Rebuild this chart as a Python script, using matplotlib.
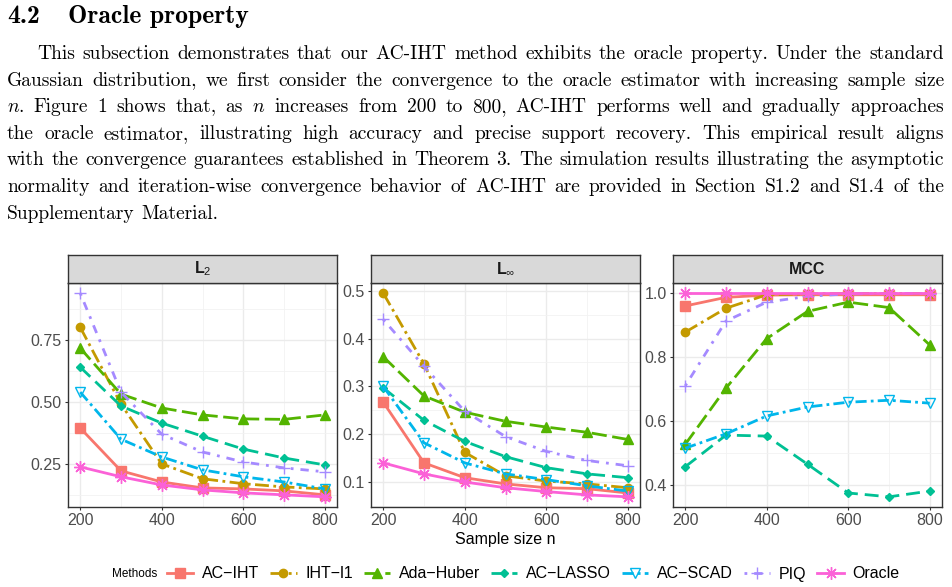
import matplotlib
matplotlib.use("Agg")
import matplotlib.pyplot as plt
from matplotlib.lines import Line2D

W, H = 952, 587

plt.rcParams['font.family'] = ['Liberation Sans', 'DejaVu Sans']
plt.rcParams['mathtext.fontset'] = 'custom'
plt.rcParams['mathtext.rm'] = 'Liberation Sans'
plt.rcParams['mathtext.bf'] = 'Liberation Sans:bold'
plt.rcParams['mathtext.fallback'] = 'cm'

# ---- data ----
n = [200, 300, 400, 500, 600, 700, 800]
methods = ['AC\u2212IHT', 'IHT\u2212l1', 'Ada\u2212Huber', 'AC\u2212LASSO', 'AC\u2212SCAD', 'PIQ', 'Oracle']

l2_aciht = [0.395, 0.222, 0.177, 0.153, 0.149, 0.141, 0.125]
l2_ihtl1 = [0.802, 0.492, 0.250, 0.190, 0.170, 0.157, 0.149]
l2_huber = [0.718, 0.532, 0.476, 0.448, 0.432, 0.430, 0.448]
l2_lasso = [0.641, 0.484, 0.415, 0.362, 0.310, 0.274, 0.246]
l2_scad = [0.540, 0.350, 0.278, 0.226, 0.198, 0.177, 0.149]
l2_piq = [0.940, 0.540, 0.370, 0.298, 0.258, 0.234, 0.218]
l2_oracle = [0.238, 0.198, 0.165, 0.145, 0.133, 0.125, 0.117]

linf_aciht = [0.267, 0.140, 0.109, 0.096, 0.088, 0.086, 0.077]
linf_ihtl1 = [0.495, 0.347, 0.162, 0.113, 0.102, 0.096, 0.088]
linf_huber = [0.362, 0.280, 0.246, 0.227, 0.215, 0.204, 0.189]
linf_lasso = [0.297, 0.229, 0.185, 0.153, 0.130, 0.117, 0.109]
linf_scad = [0.300, 0.182, 0.140, 0.117, 0.105, 0.092, 0.081]
linf_piq = [0.440, 0.342, 0.248, 0.195, 0.164, 0.145, 0.134]
linf_oracle = [0.140, 0.117, 0.100, 0.088, 0.080, 0.073, 0.069]

mcc_aciht = [0.960, 0.987, 0.994, 0.995, 0.995, 0.995, 0.995]
mcc_ihtl1 = [0.878, 0.953, 0.995, 0.998, 0.999, 0.999, 0.999]
mcc_huber = [0.527, 0.703, 0.858, 0.943, 0.972, 0.955, 0.838]
mcc_lasso = [0.457, 0.556, 0.553, 0.465, 0.375, 0.363, 0.381]
mcc_scad = [0.515, 0.560, 0.616, 0.644, 0.659, 0.665, 0.656]
mcc_piq = [0.710, 0.913, 0.972, 0.990, 0.998, 0.999, 0.999]
mcc_oracle = [1.0, 1.0, 1.0, 1.0, 1.0, 1.0, 1.0]

panel_titles = [r'$\mathbf{L}_2$', r'$\mathbf{L}_{\infty}$', 'MCC']
panel_data = [
    [l2_aciht, l2_ihtl1, l2_huber, l2_lasso, l2_scad, l2_piq, l2_oracle],
    [linf_aciht, linf_ihtl1, linf_huber, linf_lasso, linf_scad, linf_piq, linf_oracle],
    [mcc_aciht, mcc_ihtl1, mcc_huber, mcc_lasso, mcc_scad, mcc_piq, mcc_oracle],
]
yticks = [[0.25, 0.50, 0.75], [0.1, 0.2, 0.3, 0.4, 0.5], [0.4, 0.6, 0.8, 1.0]]
yfmt = ['{:.2f}', '{:.1f}', '{:.1f}']
yminor = [[0.125, 0.375, 0.625, 0.875], [0.05, 0.15, 0.25, 0.35, 0.45], [0.5, 0.7, 0.9]]

# ggplot hue palette + styles
colors = ['#F8766D', '#C49A00', '#53B400', '#00C094', '#00B6EB', '#A58AFF', '#FB61D7']
styles = ['-', (0, (5, 1.6, 1, 1.6)), (0, (5.5, 2)), (0, (5, 2.5)),
          (0, (4, 1.5, 1, 1.5)), (0, (1, 2.5, 3, 2.5)), '-']
markers = ['s', 'o', '^', 'D', 'v', '+', (8, 2, 0)]
msizes = [6.5, 6, 7, 4, 7, 9, 9]
mfaces = [None, None, None, None, 'none', None, None]

fig = plt.figure(figsize=(W / 100, H / 100), dpi=100)

# ---- section text ----
def px(x, y):
    return x / W, 1 - y / H

fig.text(*px(7, 23), '4.2', family='cmb10', fontsize=18.5, va='baseline')
fig.text(*px(68, 23), 'Oracle property', family='cmb10', fontsize=18.5, va='baseline')

para = [
    "This subsection demonstrates that our AC-IHT method exhibits the oracle property. Under the standard",
    "Gaussian distribution, we first consider the convergence to the oracle estimator with increasing sample size",
    "$n$. Figure 1 shows that, as $n$ increases from 200 to 800, AC-IHT performs well and gradually approaches",
    "the oracle estimator, illustrating high accuracy and precise support recovery. This empirical result aligns",
    "with the convergence guarantees established in Theorem 3. The simulation results illustrating the asymptotic",
    "normality and iteration-wise convergence behavior of AC-IHT are provided in Section S1.2 and S1.4 of the",
    "Supplementary Material.",
]
renderer = fig.canvas.get_renderer()
for i, line in enumerate(para):
    y = 59 + i * 26.6
    x0 = 37 if i == 0 else 7
    words = line.split(' ')
    items = [fig.text(0, 0, w, family='cmr10', math_fontfamily='cm', fontsize=14, va='baseline')
             for w in words]
    widths = [t.get_window_extent(renderer).width for t in items]
    if i == len(para) - 1:
        gap = 6.5
    else:
        gap = (944 - x0 - sum(widths)) / (len(words) - 1)
    x = x0
    for t, w in zip(items, widths):
        t.set_position(px(x, y))
        x += w + gap

# ---- panels ----
lefts = [68, 371, 673]
pw = 269
top, bot, strip_top = 283, 507, 255

for k in range(3):
    ax = fig.add_axes([lefts[k] / W, 1 - bot / H, pw / W, (bot - top) / H])
    ax.set_facecolor('white')
    for j in range(7):
        ax.plot(n, panel_data[k][j], color=colors[j], linestyle=styles[j], lw=2.0,
                marker=markers[j], markersize=msizes[j],
                markerfacecolor=mfaces[j] if mfaces[j] else colors[j],
                markeredgewidth=1.0, zorder=3)
    lo = min(min(s) for s in panel_data[k])
    hi = max(max(s) for s in panel_data[k])
    pad = (hi - lo) * 0.05
    ax.set_ylim(lo - pad, hi + pad)
    ax.set_xlim(170, 830)
    ax.set_xticks([200, 400, 600, 800])
    ax.set_xticks([300, 500, 700], minor=True)
    ax.set_yticks(yticks[k])
    ax.set_yticks(yminor[k], minor=True)
    ax.set_yticklabels([yfmt[k].format(v) for v in yticks[k]])
    ax.grid(which='major', color='#EBEBEB', lw=1.0, zorder=0)
    ax.grid(which='minor', color='#F2F2F2', lw=0.6, zorder=0)
    ax.set_axisbelow(True)
    ax.tick_params(which='major', length=2.5, width=0.8, color='#333333', pad=2,
                   labelsize=11.5, labelcolor='#4D4D4D')
    ax.tick_params(which='minor', length=0)
    for s in ax.spines.values():
        s.set_color('#333333')
        s.set_linewidth(1.0)
    if k == 1:
        ax.set_xlabel('Sample size n', fontsize=11.5, labelpad=3)

    st = fig.add_axes([lefts[k] / W, 1 - top / H, pw / W, (top - strip_top) / H])
    st.set_facecolor('#D9D9D9')
    st.set_xticks([])
    st.set_yticks([])
    for s in st.spines.values():
        s.set_color('#333333')
        s.set_linewidth(1.0)
    st.text(0.5, 0.5, panel_titles[k], transform=st.transAxes, ha='center', va='center',
            fontsize=11.5, fontweight='bold', color='#1A1A1A')

# ---- legend ----
handles = []
for j in range(7):
    handles.append(Line2D([], [], color=colors[j], linestyle=styles[j], lw=2.0,
                          marker=markers[j], markersize=msizes[j],
                          markerfacecolor=mfaces[j] if mfaces[j] else colors[j],
                          markeredgewidth=1.0))
fig.text(*px(112, 574), 'Methods', fontsize=8.5, va='center')
fig.legend(handles, methods, ncol=7, loc='center left', bbox_to_anchor=px(167, 574),
           frameon=False, fontsize=11.5, handlelength=1.65, handletextpad=0.55,
           columnspacing=0.68, borderpad=0, borderaxespad=0, markerscale=1.0)

fig.savefig('out.png', dpi=100)
